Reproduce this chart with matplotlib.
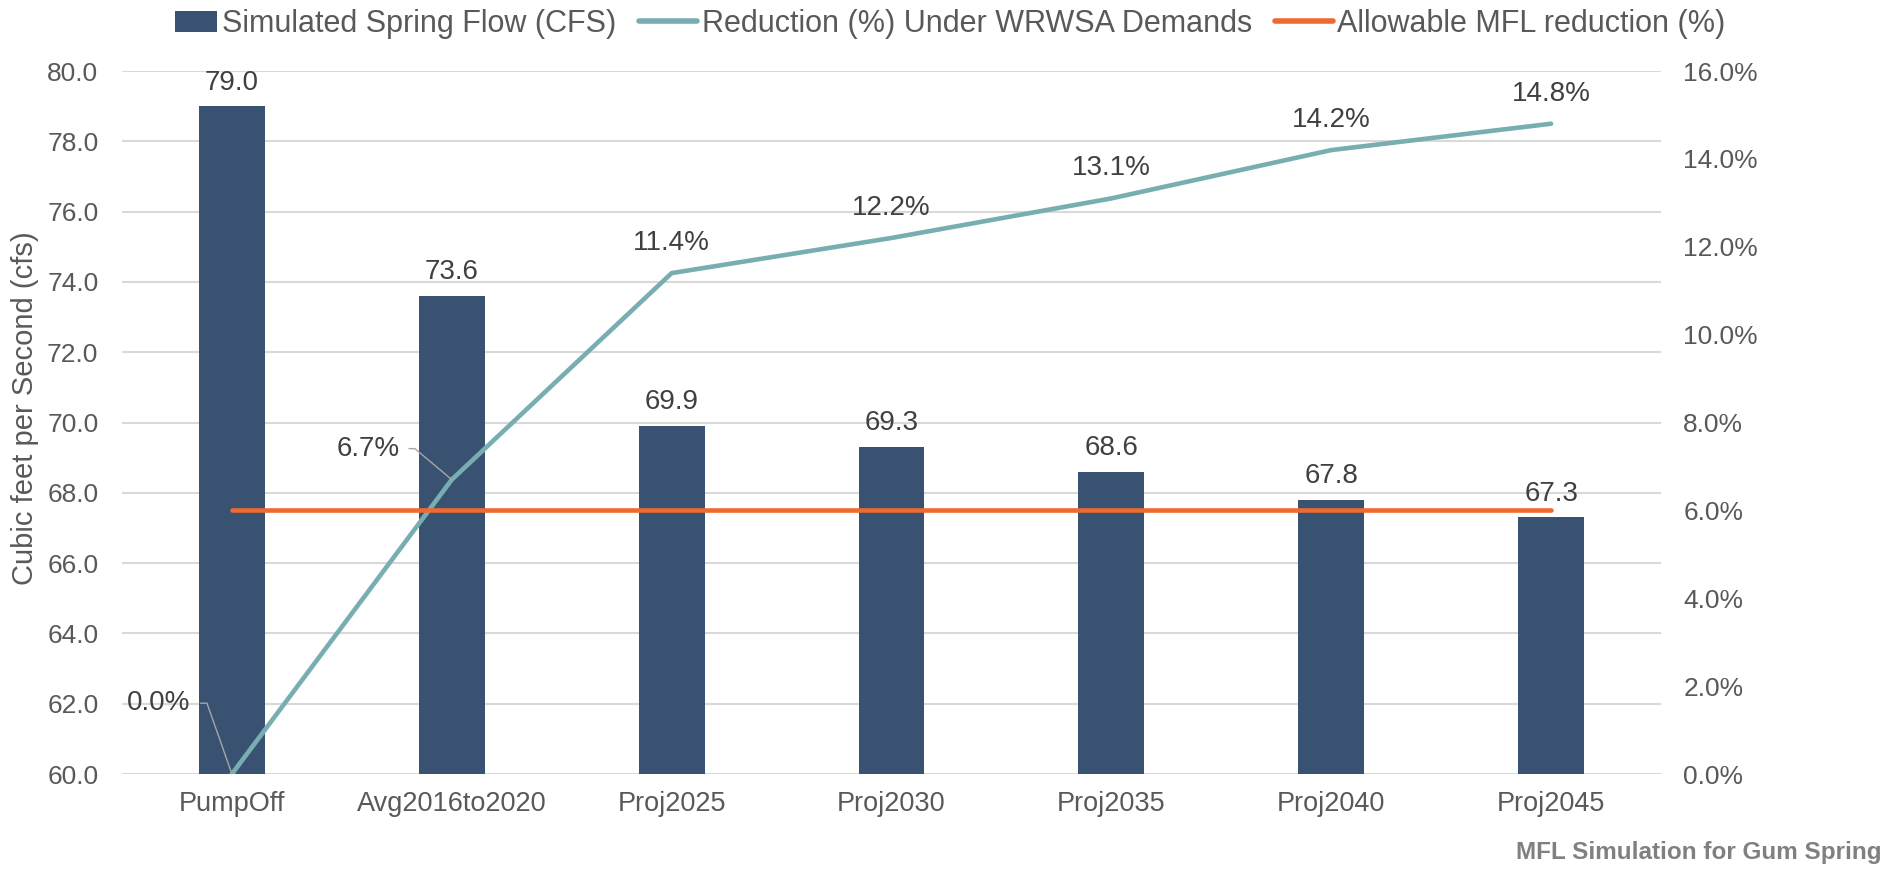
import matplotlib
matplotlib.use("Agg")
import matplotlib.pyplot as plt
from matplotlib.patches import Patch, Rectangle
from matplotlib.lines import Line2D
from matplotlib.legend_handler import HandlerPatch
import numpy as np

categories = ["PumpOff", "Avg2016to2020", "Proj2025", "Proj2030", "Proj2035", "Proj2040", "Proj2045"]
spring_flow = [79.0, 73.6, 69.9, 69.3, 68.6, 67.8, 67.3]
reduction_pct = [0.0, 6.7, 11.4, 12.2, 13.1, 14.2, 14.8]
allowable_mfl_pct = [6.0, 6.0, 6.0, 6.0, 6.0, 6.0, 6.0]

BAR_COLOR = "#3A5272"
TEAL = "#78AEB2"
ORANGE = "#EE6A30"
GRID = "#D9D9D9"
TICK = "#595959"
LABEL = "#404040"

plt.rcParams["font.family"] = ["Liberation Sans", "DejaVu Sans"]

fig = plt.figure(figsize=(19, 8.72), dpi=100)
ax = fig.add_axes([122 / 1900, 1 - 774 / 872, (1661 - 122) / 1900, (774 - 71) / 872])
ax2 = ax.twinx()

x = np.arange(len(categories))
ax.bar(x, spring_flow, width=0.3, color=BAR_COLOR, zorder=2)

ax.set_xlim(-0.5, len(categories) - 0.5)
ax.set_ylim(60, 80)
ax.set_yticks(np.arange(60, 80.1, 2))
ax.set_yticklabels([f"{v:.1f}" for v in np.arange(60, 80.1, 2)])
ax.set_xticks(x)
ax.set_xticklabels(categories)
ax.yaxis.grid(True, color=GRID, lw=1.5, zorder=0)
ax.set_axisbelow(True)
for sp in ax.spines.values():
    sp.set_visible(False)
for sp in ax2.spines.values():
    sp.set_visible(False)
ax.tick_params(axis="both", length=0, labelsize=19, labelcolor=TICK)
ax.tick_params(axis="y", pad=17)
ax.tick_params(axis="x", labelsize=19.5, pad=12)
ax.set_ylabel("Cubic feet per Second (cfs)", fontsize=21, color=TICK)
ax.yaxis.set_label_coords(-0.054, 0.52)

ax2.set_ylim(0, 16)
ax2.set_yticks(np.arange(0, 16.1, 2))
ax2.set_yticklabels([f"{v:.1f}%" for v in np.arange(0, 16.1, 2)])
ax2.tick_params(axis="y", length=0, labelsize=19, labelcolor=TICK, pad=16)

ax2.plot(x, reduction_pct, color=TEAL, lw=3.3, solid_capstyle="round", solid_joinstyle="round", zorder=3)
ax2.plot(x, allowable_mfl_pct, color=ORANGE, lw=3.3, solid_capstyle="round", zorder=4)

for xi, v in zip(x, spring_flow):
    ax.annotate(f"{v:.1f}", (xi, v), xytext=(0, 17), textcoords="offset points",
                ha="center", va="center", fontsize=20, color=LABEL)

# labels with leader lines: offset (pts), leader angle at the point
leader = {0: ((-52.6, 51.0), 109.4), 1: ((-60.5, 22.3), 140.0)}
for i, (xi, v) in enumerate(zip(x, reduction_pct)):
    if i in leader:
        (dx, dy), angB = leader[i]
        ax2.annotate(f"{v:.1f}%", (xi, v), xytext=(dx, dy), textcoords="offset points",
                     ha="center", va="center", fontsize=20, color=LABEL, zorder=6,
                     arrowprops=dict(arrowstyle="-", color="#A6A6A6", lw=1,
                                     shrinkA=5, shrinkB=0,
                                     connectionstyle=f"angle,angleA=0,angleB={angB},rad=0"))
    else:
        ax2.annotate(f"{v:.1f}%", (xi, v), xytext=(0, 21.6), textcoords="offset points",
                     ha="center", va="center", fontsize=20, color=LABEL, zorder=6)


def narrow_patch(legend, orig_handle, xdescent, ydescent, width, height, fontsize):
    w = width * 0.72
    return Rectangle((width - w - xdescent, -ydescent), w, height)


handles = [
    Patch(facecolor=BAR_COLOR),
    Line2D([0], [0], color=TEAL, lw=4, solid_capstyle="round"),
    Line2D([0], [0], color=ORANGE, lw=4, solid_capstyle="round"),
]
labels = ["Simulated Spring Flow (CFS)", "Reduction (%) Under WRWSA Demands", "Allowable MFL reduction (%)"]
fig.legend(handles, labels, loc="center", bbox_to_anchor=(0.496, 1 - 24 / 872), ncol=3,
           frameon=False, fontsize=22, handlelength=1.9, handletextpad=0.15,
           columnspacing=0.75, labelcolor=TICK,
           handler_map={Patch: HandlerPatch(patch_func=narrow_patch)})

fig.text(1882 / 1900, 1 - 852 / 872, "MFL Simulation for Gum Spring", ha="right", va="center",
         fontsize=17.5, fontweight="bold", color="#808080")

fig.savefig("out.png", dpi=100)
